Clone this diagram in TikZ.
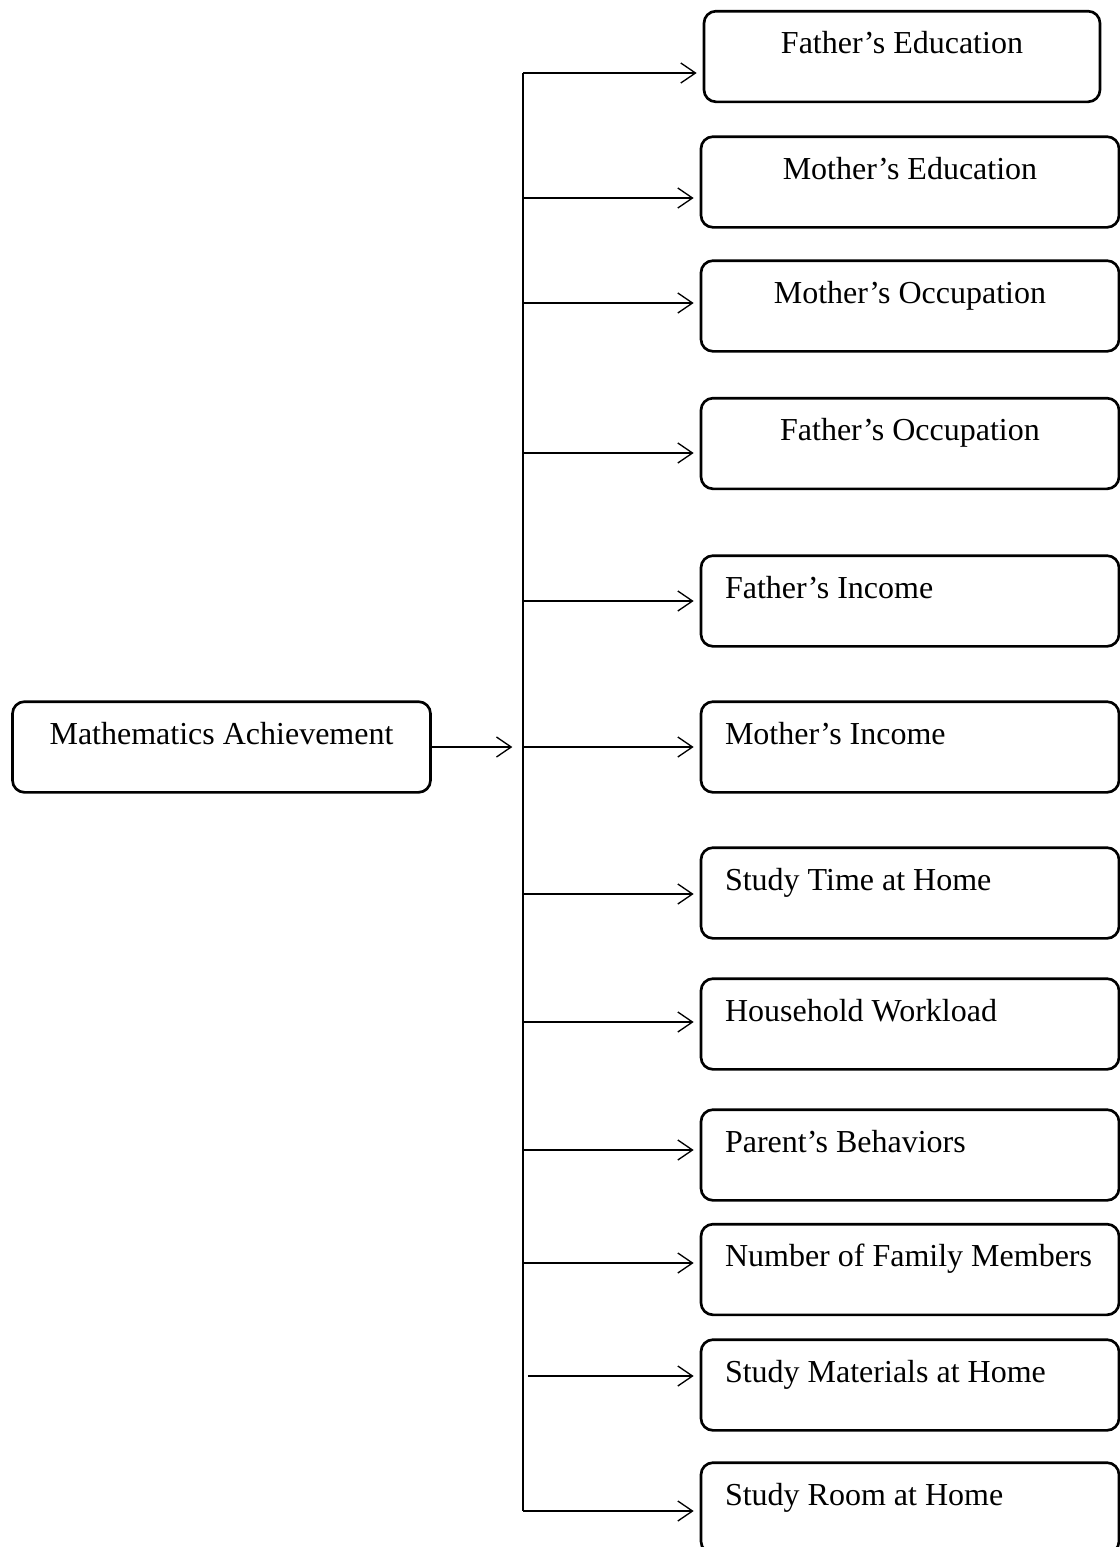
\documentclass[tikz,border=0pt]{standalone}
\usepackage{fontspec}
\setmainfont{Liberation Serif}
\usetikzlibrary{arrows.meta}
\tikzset{
  factorNode/.style={
    rounded corners=4.5pt,
    draw=black,
    line width=1pt,
    inner xsep=9pt,
    inner ysep=0pt,
    text height=16pt,
    text depth=18pt,
    font=\fontsize{12}{14}\selectfont
  },
  leftFactor/.style={factorNode, text width=138.75pt, align=flush left},
  centerFactor/.style={factorNode, text width=138.75pt, align=flush center},
  linkFlow/.style={-{Straight Barb[length=5.5pt,width=7.5pt]}, line width=0.5pt, shorten >=2.25pt},
  trunkLine/.style={line width=0.5pt}
}

\begin{document}
\begin{tikzpicture}[x=0.375pt, y=-0.375pt]
  \useasboundingbox (0,0) rectangle (1120,1547);

  \node[centerFactor] (mathAch) at (221.5,747) {Mathematics Achievement};

  \node[centerFactor, text width=130.5pt] (fatherEdu) at (902,56.5) {Father’s Education};
  \node[centerFactor] (motherEdu) at (910,182) {Mother’s Education};
  \node[centerFactor] (motherOcc) at (910,306) {Mother’s Occupation};
  \node[centerFactor] (fatherOcc) at (910,443.5) {Father’s Occupation};
  \node[leftFactor] (fatherInc) at (910,601) {Father’s Income};
  \node[leftFactor] (motherInc) at (910,747) {Mother’s Income};
  \node[leftFactor] (studyTime) at (910,893) {Study Time at Home};
  \node[leftFactor] (workload) at (910,1024) {Household Workload};
  \node[leftFactor] (behavior) at (910,1155) {Parent’s Behaviors};
  \node[leftFactor] (members) at (910,1269.5) {Number of Family Members};
  \node[leftFactor] (materials) at (910,1385) {Study Materials at Home};
  \node[leftFactor] (room) at (910,1508) {Study Room at Home};

  \coordinate (t1) at (523,73);
  \coordinate (t2) at (523,198);
  \coordinate (t3) at (523,303);
  \coordinate (t4) at (523,453);
  \coordinate (t5) at (523,601);
  \coordinate (t6) at (523,747);
  \coordinate (t7) at (523,894);
  \coordinate (t8) at (523,1022);
  \coordinate (t9) at (523,1150);
  \coordinate (t10) at (523,1263);
  \coordinate (t11) at (528,1376);
  \coordinate (t12) at (523,1511);

  \draw[trunkLine] (t1) -- (t12);
  \draw[linkFlow, shorten >=4pt] (mathAch.east) -- (t6);

  \draw[linkFlow] (t1) -- (t1 -| fatherEdu.west);
  \draw[linkFlow] (t2) -- (t2 -| motherEdu.west);
  \draw[linkFlow] (t3) -- (t3 -| motherOcc.west);
  \draw[linkFlow] (t4) -- (t4 -| fatherOcc.west);
  \draw[linkFlow] (t5) -- (t5 -| fatherInc.west);
  \draw[linkFlow] (t6) -- (t6 -| motherInc.west);
  \draw[linkFlow] (t7) -- (t7 -| studyTime.west);
  \draw[linkFlow] (t8) -- (t8 -| workload.west);
  \draw[linkFlow] (t9) -- (t9 -| behavior.west);
  \draw[linkFlow] (t10) -- (t10 -| members.west);
  \draw[linkFlow] (t11) -- (t11 -| materials.west);
  \draw[linkFlow] (t12) -- (t12 -| room.west);
\end{tikzpicture}
\end{document}
